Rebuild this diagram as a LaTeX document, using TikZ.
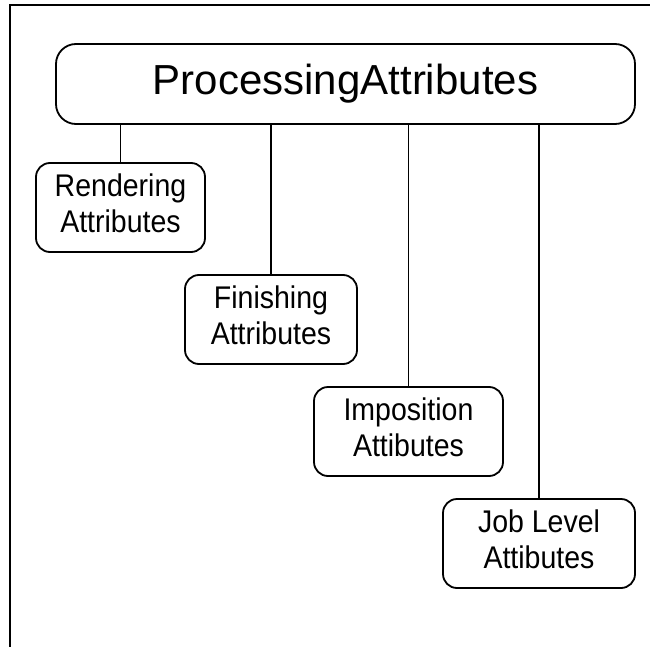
\documentclass[tikz,border=0pt]{standalone}
\usepackage{fontspec}
\usepackage{graphicx}
\setmainfont{Liberation Sans}
% two-line label, set slightly tall
\newcommand{\twoline}[2]{\scalebox{1}[1.1]{\begin{tabular}{@{}c@{}}#1\\#2\end{tabular}}}
\begin{document}
\begin{tikzpicture}[x=1pt,y=-1pt,
  frameline/.style={line width=2.5pt},
  attrbox/.style={draw,line width=1.8pt,rounded corners=14pt,inner sep=0pt,align=center,
    font=\fontsize{28.5}{33}\selectfont},
  rootbox/.style={draw,line width=1.8pt,rounded corners=20pt,inner sep=0pt,
    font=\fontsize{42}{46}\selectfont},
  link/.style={line width=1.8pt}]
\useasboundingbox (0,0) rectangle (650,647);
% open frame: top and left edges only
\draw[frameline] (650,5) -- (10,5) -- (10,647);
% root node
\node[rootbox,minimum width=579pt,minimum height=80pt] (root) at (345.5,84) {ProcessingAttributes};
% attribute groups
\node[attrbox,minimum width=169pt,minimum height=89pt] (render) at (120.5,207.5) {\twoline{Rendering}{Attributes}};
\node[attrbox,minimum width=172pt,minimum height=89pt] (finish) at (271,319.5) {\twoline{Finishing}{Attributes}};
\node[attrbox,minimum width=189pt,minimum height=89pt] (impos) at (408.5,431.5) {\twoline{Imposition}{Attibutes}};
\node[attrbox,minimum width=192pt,minimum height=89pt] (joblvl) at (539,543.5) {\twoline{Job Level}{Attibutes}};
% connectors
\draw[link] (root.south -| render.north) -- (render.north);
\draw[link] (root.south -| finish.north) -- (finish.north);
\draw[link] (root.south -| impos.north) -- (impos.north);
\draw[link] (root.south -| joblvl.north) -- (joblvl.north);
\end{tikzpicture}
\end{document}
